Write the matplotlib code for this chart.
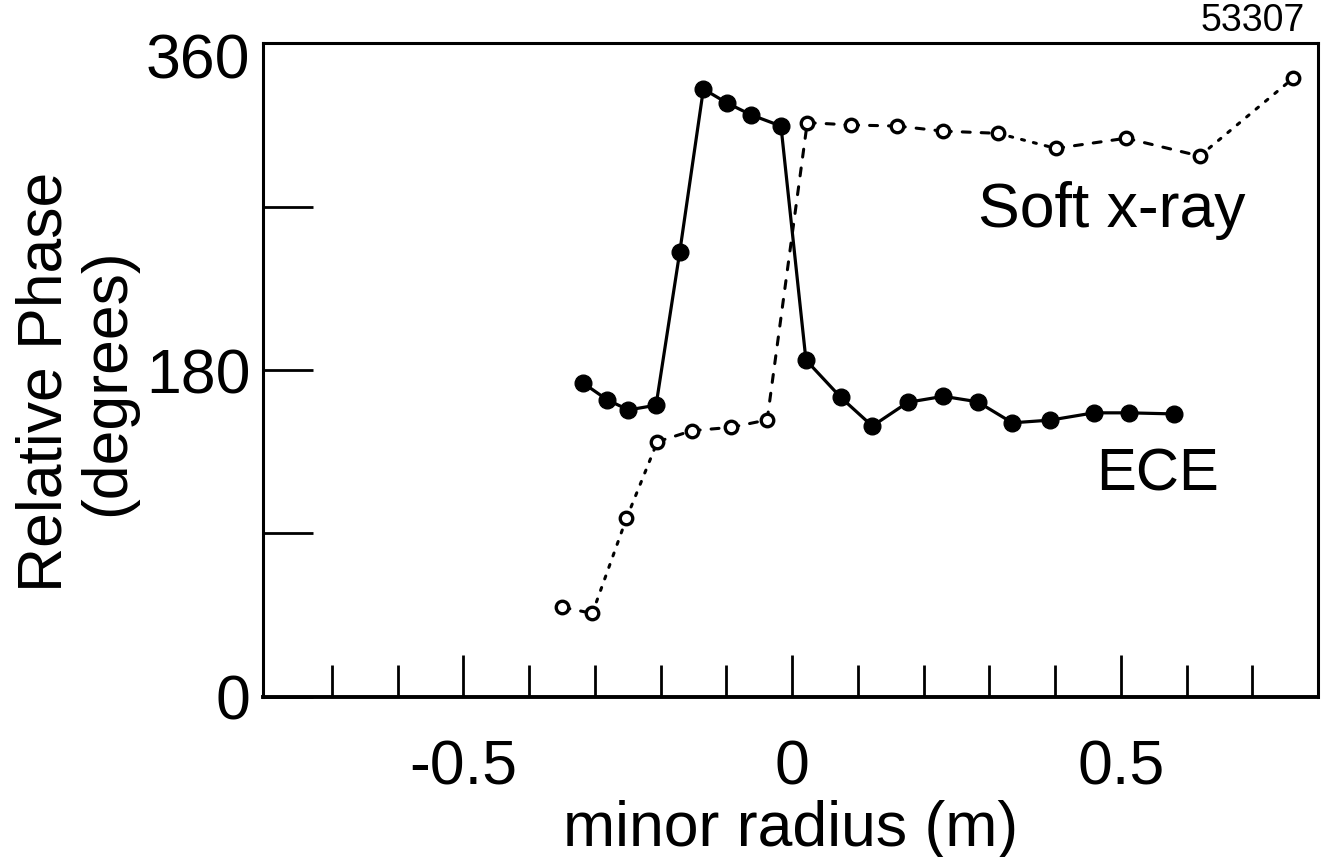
import matplotlib
matplotlib.use("Agg")
import matplotlib.pyplot as plt
from matplotlib.transforms import ScaledTranslation

plt.rcParams['font.family'] = ['Liberation Sans', 'DejaVu Sans']

# ---- data ----
ece_r = [-0.318, -0.281, -0.249, -0.207, -0.171, -0.135, -0.099, -0.062, -0.017,
         0.021, 0.074, 0.122, 0.176, 0.230, 0.282, 0.335, 0.393, 0.459, 0.512, 0.581]
ece_phase = [172.8, 163.5, 158.0, 160.6, 245.0, 334.8, 327.1, 320.5, 314.4,
             185.5, 164.9, 149.1, 162.2, 165.5, 162.5, 150.9, 152.4, 156.4, 156.4, 155.8]

sxr_r = [-0.350, -0.304, -0.252, -0.205, -0.152, -0.093, -0.038, 0.023, 0.089,
         0.160, 0.230, 0.313, 0.401, 0.508, 0.620, 0.762]
sxr_phase = [49.3, 45.9, 98.3, 140.5, 146.6, 148.4, 152.5, 316.3, 315.0,
             314.4, 311.6, 310.4, 302.1, 307.7, 297.9, 340.7]

y_ticks = [0, 90, 180, 270, 360]
y_ticklabels = ['0', '', '180', '', '360']
x_major = [-0.5, 0, 0.5]
x_major_labels = ['-0.5', '0', '0.5']
x_minor = [-0.7, -0.6, -0.4, -0.3, -0.2, -0.1, 0.1, 0.2, 0.3, 0.4, 0.6, 0.7]

# line style of each soft x-ray segment (between consecutive points)
dash = (0, (2.6, 3.6))
dot = (0, (1.0, 3.0))
sxr_seg_styles = [dash, dot, dot, dash, dash, dash, dash, dash, dash,
                  dash, dash, dot, dash, dash, dot]

# ---- figure ----
fig = plt.figure(figsize=(13.22, 8.57), dpi=100)
ax = fig.add_axes([263 / 1322, 1 - 696.7 / 857, (1318 - 263) / 1322, (696.7 - 43.3) / 857])

# soft x-ray segments
for i, ls in enumerate(sxr_seg_styles):
    ax.plot(sxr_r[i:i + 2], sxr_phase[i:i + 2], color='black', lw=2.2,
            linestyle=ls, dash_capstyle='round', solid_capstyle='round', zorder=2)
ax.plot(sxr_r, sxr_phase, linestyle='none', marker='o', ms=9,
        mfc='white', mec='black', mew=2.4, zorder=3)

# ECE
ax.plot(ece_r, ece_phase, color='black', lw=2.3, marker='o', ms=12,
        mfc='black', mec='black', zorder=4)

ax.set_xlim(-0.805, 0.80)
ax.set_ylim(0, 360)

ax.set_yticks(y_ticks)
ax.set_yticklabels(y_ticklabels)
ax.set_xticks(x_major)
ax.set_xticklabels(x_major_labels)
ax.set_xticks(x_minor, minor=True)

ax.tick_params(axis='y', which='major', direction='in', length=36, width=2.0,
               labelsize=45, pad=9)
ax.tick_params(axis='x', which='major', direction='in', length=30, width=2.0,
               labelsize=45, pad=30)
ax.tick_params(axis='x', which='minor', direction='in', length=23, width=2.0)

# the top label sits a little below its tick
top_lab = ax.get_yticklabels()[-1]
top_lab.set_transform(top_lab.get_transform() + ScaledTranslation(0, -0.12, fig.dpi_scale_trans))

for s in ax.spines.values():
    s.set_linewidth(2.2)
ax.spines['bottom'].set_linewidth(2.8)

ax.set_xlabel('minor radius (m)', fontsize=45, labelpad=2)
ax.set_ylabel('Relative Phase\n(degrees)', fontsize=45, linespacing=1.08)
ax.yaxis.set_label_coords(-0.1195, 0.482)

ax.text(0.283, 268, 'Soft x-ray', fontsize=45, ha='left', va='center')
ax.text(0.462, 122, 'ECE', fontsize=43, ha='left', va='center')
fig.text(1305 / 1322, 1 - 21 / 857, '53307', fontsize=27, ha='right', va='center')

fig.savefig('out.png', dpi=100)
